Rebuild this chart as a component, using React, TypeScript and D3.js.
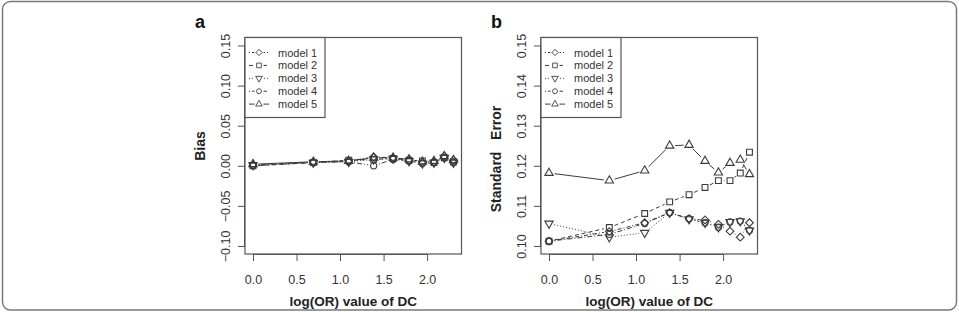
import { useRef, useEffect } from "react";
import * as d3 from "d3";

// log(OR) values of DC (OR = 1..10)
const logOR = [0, 0.693, 1.099, 1.386, 1.609, 1.792, 1.946, 2.079, 2.197, 2.303];
const modelNames = ["model 1", "model 2", "model 3", "model 4", "model 5"];

// panel a: bias
const biasM1 = [0.001, 0.005, 0.006, 0.011, 0.01, 0.007, 0.004, 0.005, 0.012, 0.007];
const biasM2 = [0.0, 0.004, 0.007, 0.008, 0.009, 0.007, 0.006, 0.004, 0.01, 0.005];
const biasM3 = [0.001, 0.004, 0.005, 0.008, 0.009, 0.006, 0.003, 0.004, 0.01, 0.004];
const biasM4 = [0.0, 0.004, 0.005, 0.0, 0.008, 0.006, 0.003, 0.004, 0.01, 0.004];
const biasM5 = [0.002, 0.005, 0.006, 0.01, 0.01, 0.008, 0.005, 0.006, 0.012, 0.007];

// panel b: standard error
const seM1 = [0.1012, 0.1036, 0.1058, 0.1083, 0.1068, 0.1065, 0.1054, 0.1037, 0.1022, 0.1058];
const seM2 = [0.1012, 0.1046, 0.1081, 0.111, 0.1128, 0.1146, 0.1163, 0.1163, 0.1182, 0.1234];
const seM3 = [0.1056, 0.1022, 0.1033, 0.1083, 0.1067, 0.1058, 0.1047, 0.106, 0.1062, 0.1039];
const seM4 = [0.1012, 0.1029, 0.1056, 0.1083, 0.1068, 0.1058, 0.1047, 0.106, 0.1062, 0.1039];
const seM5 = [0.1182, 0.1163, 0.1188, 0.125, 0.1252, 0.1212, 0.1183, 0.1207, 0.1215, 0.1179];

const biasTicks = [-0.1, -0.05, 0, 0.05, 0.1, 0.15];
const seTicks = [0.1, 0.11, 0.12, 0.13, 0.14, 0.15];
const xTicks = [0, 0.5, 1, 1.5, 2];

// per-model style: marker + line dash (R lty-ish)
const markers = ["diamond", "square", "down", "circle", "up"];
const dashes = ["1,2,4,2", "4,3", "1,2", "1,2,5,2", null];

const INK = "#3c3c3c";
const FONT = "'Liberation Sans', Arial, Helvetica, sans-serif";

function symbolPath(kind: string) {
  if (kind === "square") return d3.symbol().type(d3.symbolSquare).size(34)()!;
  if (kind === "circle") return d3.symbol().type(d3.symbolCircle).size(30)()!;
  if (kind === "diamond") return d3.symbol().type(d3.symbolSquare).size(30)()!;
  return d3.symbol().type(d3.symbolTriangle).size(30)()!;
}
function symbolRotate(kind: string) {
  if (kind === "diamond") return 45;
  if (kind === "down") return 180;
  return 0;
}

export default function App() {
  const svgRef = useRef<SVGSVGElement>(null);

  useEffect(() => {
    if (!svgRef.current) return;
    const svg = d3.select(svgRef.current);
    svg.selectAll("*").remove();

    const width = 959;
    const height = 312;

    // outer figure frame
    svg
      .append("rect")
      .attr("x", 2.5)
      .attr("y", 1.5)
      .attr("width", width - 5)
      .attr("height", height - 3.5)
      .attr("rx", 8)
      .attr("fill", "#fff")
      .attr("stroke", "#7a7a7a")
      .attr("stroke-width", 1.5);

    const panels = [
      {
        left: 245,
        letter: "a",
        ylab: "Bias",
        ylabY: 146,
        yDomain: [-0.11, 0.16],
        yTicks: biasTicks,
        series: [biasM1, biasM2, biasM3, biasM4, biasM5],
      },
      {
        left: 541,
        letter: "b",
        ylab: "Standard   Error",
        ylabY: 159,
        yDomain: [0.098, 0.152],
        yTicks: seTicks,
        series: [seM1, seM2, seM3, seM4, seM5],
      },
    ];

    const top = 37.5;
    const boxH = 216.5;
    const boxW = 216.5;

    panels.forEach((p) => {
      const left = p.left;
      const bottom = top + boxH;
      const x = d3.scaleLinear().domain([-0.092, 2.395]).range([left, left + boxW]);
      const y = d3.scaleLinear().domain(p.yDomain).range([bottom, top]);
      const g = svg.append("g");

      // type="b" lines: segments with gaps around the points
      const gap = 5.5;
      p.series.forEach((vals, i) => {
        const pts = logOR.map((v, k) => [x(v), y(vals[k])]);
        for (let k = 0; k < pts.length - 1; k++) {
          const [x0, y0] = pts[k];
          const [x1, y1] = pts[k + 1];
          const len = Math.hypot(x1 - x0, y1 - y0);
          if (len <= gap * 2) continue;
          const ux = (x1 - x0) / len;
          const uy = (y1 - y0) / len;
          g.append("line")
            .attr("x1", x0 + ux * gap)
            .attr("y1", y0 + uy * gap)
            .attr("x2", x1 - ux * gap)
            .attr("y2", y1 - uy * gap)
            .attr("stroke", INK)
            .attr("stroke-width", 1)
            .attr("stroke-dasharray", dashes[i]);
        }
        g.selectAll(null)
          .data(pts)
          .join("path")
          .attr("d", symbolPath(markers[i]))
          .attr("transform", (d) => `translate(${d[0]},${d[1]}) rotate(${symbolRotate(markers[i])})`)
          .attr("fill", "none")
          .attr("stroke", INK)
          .attr("stroke-width", 1.1);
      });

      // box
      g.append("rect")
        .attr("x", left)
        .attr("y", top)
        .attr("width", boxW)
        .attr("height", boxH)
        .attr("fill", "none")
        .attr("stroke", "#555")
        .attr("stroke-width", 1.2);

      // x axis
      const xa = g
        .append("g")
        .attr("transform", `translate(0,${bottom})`)
        .call(d3.axisBottom(x).tickValues(xTicks).tickSize(7).tickPadding(14).tickFormat(d3.format(".1f")));
      xa.select(".domain")
        .attr("d", `M${x(0)},0.5H${x(2)}`)
        .attr("stroke", "#555");
      xa.selectAll(".tick line").attr("stroke", "#555");
      xa.selectAll("text")
        .attr("fill", "#333")
        .attr("font-family", FONT)
        .attr("font-size", 12.5);

      // y axis
      const ya = g
        .append("g")
        .attr("transform", `translate(${left},0)`)
        .call(d3.axisLeft(y).tickValues(p.yTicks).tickSize(7).tickFormat(d3.format(".2f")));
      ya.select(".domain")
        .attr("d", `M-0.5,${y(p.yTicks[0])}V${y(p.yTicks[p.yTicks.length - 1])}`)
        .attr("stroke", "#555");
      ya.selectAll(".tick line").attr("stroke", "#555");
      ya.selectAll(".tick text")
        .attr("x", null)
        .attr("dy", null)
        .attr("transform", "translate(-15,0) rotate(-90)")
        .attr("text-anchor", "middle")
        .attr("fill", "#333")
        .attr("font-family", FONT)
        .attr("font-size", 12.5);

      // axis titles
      g.append("text")
        .attr("x", left + boxW / 2)
        .attr("y", 306)
        .attr("text-anchor", "middle")
        .attr("font-family", FONT)
        .attr("font-weight", "bold")
        .attr("font-size", 13.5)
        .attr("fill", "#222")
        .text("log(OR) value of DC");

      g.append("text")
        .attr("transform", `translate(${left - 40},${p.ylabY}) rotate(-90)`)
        .attr("text-anchor", "middle")
        .attr("font-family", FONT)
        .attr("font-weight", "bold")
        .attr("font-size", 14)
        .attr("fill", "#222")
        .style("white-space", "pre")
        .text(p.ylab);

      // panel letter
      g.append("text")
        .attr("x", left - 50)
        .attr("y", 28)
        .attr("font-family", FONT)
        .attr("font-weight", "bold")
        .attr("font-size", 18)
        .attr("fill", "#111")
        .text(p.letter);

      // legend
      const lg = g.append("g");
      lg.append("rect")
        .attr("x", left)
        .attr("y", top)
        .attr("width", 80)
        .attr("height", 80)
        .attr("fill", "#fff")
        .attr("stroke", "#555")
        .attr("stroke-width", 1.2);
      modelNames.forEach((name, i) => {
        const ly = top + 15 + i * 12.9;
        lg.append("line")
          .attr("x1", left + 4)
          .attr("x2", left + 24)
          .attr("y1", ly)
          .attr("y2", ly)
          .attr("stroke", INK)
          .attr("stroke-dasharray", dashes[i]);
        lg.append("rect")
          .attr("x", left + 9.5)
          .attr("y", ly - 4)
          .attr("width", 9)
          .attr("height", 8)
          .attr("fill", "#fff");
        lg.append("path")
          .attr("d", symbolPath(markers[i]))
          .attr("transform", `translate(${left + 14},${ly}) rotate(${symbolRotate(markers[i])}) scale(0.8)`)
          .attr("fill", "none")
          .attr("stroke", INK)
          .attr("stroke-width", 1.1);
        lg.append("text")
          .attr("x", left + 33)
          .attr("y", ly + 4)
          .attr("font-family", FONT)
          .attr("font-size", 11)
          .attr("fill", "#333")
          .text(name);
      });
    });
  }, []);

  return (
    <div style={{ position: "absolute", left: 0, top: 0, width: 959, height: 312 }}>
      <svg ref={svgRef} width={959} height={312} style={{ display: "block" }} />
    </div>
  );
}
